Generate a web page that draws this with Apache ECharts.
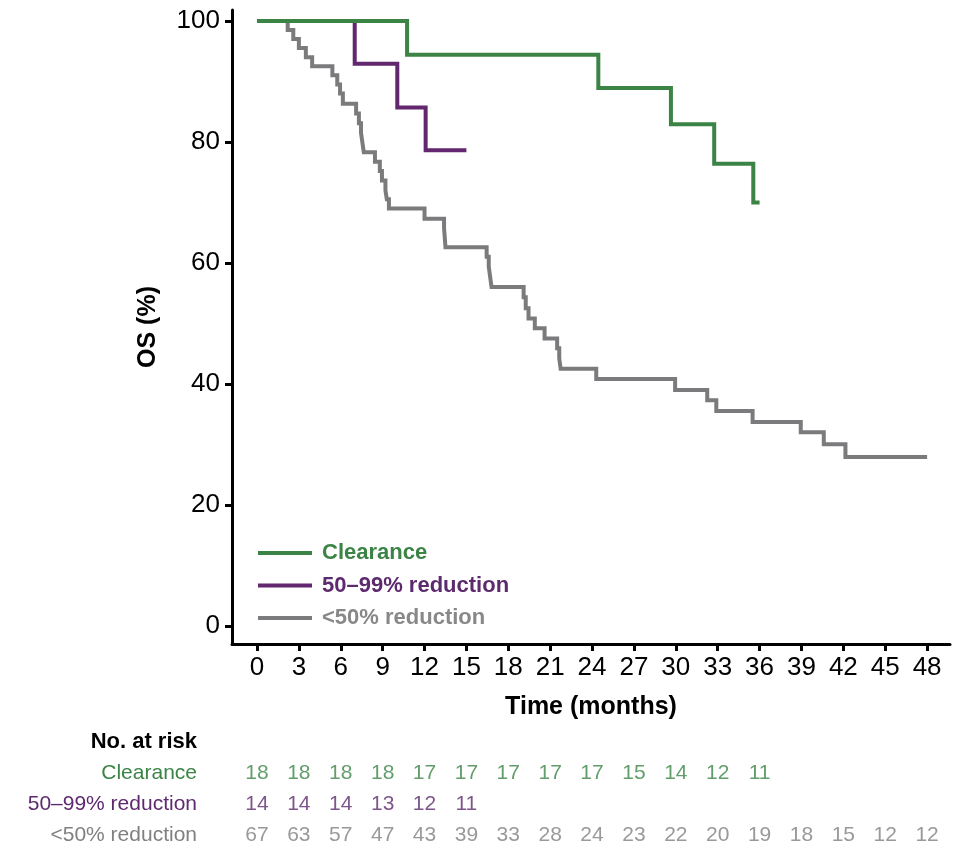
<!DOCTYPE html>
<html>
<head>
<meta charset="utf-8">
<script src="https://cdn.jsdelivr.net/npm/echarts@6/dist/echarts.min.js"></script>
<style>
  html, body { margin: 0; padding: 0; background: #fff; }
  #chart { width: 966px; height: 860px; }
</style>
</head>
<body>
<div id="chart"></div>
<script>
// survival curves (months, OS %)
const clearanceTimes = [0, 10.75, 24.45, 29.65, 32.75, 35.55, 36.0]
const clearanceSurv = [100, 94.4, 88.9, 82.9, 76.4, 70.0, 70.0]

const partialTimes = [0, 7.0, 10.05, 12.08, 15.0]
const partialSurv = [100, 92.9, 85.7, 78.6, 78.6]

const lowTimes = [0, 2.2, 2.6, 3.0, 3.5, 3.95, 5.4, 5.75, 5.95, 6.15, 7.1, 7.3, 7.45, 7.55, 7.65,
  8.45, 8.8, 8.95, 9.2, 9.3, 9.45, 12.0, 13.4, 13.45, 13.5, 16.45, 16.6, 16.7, 16.8,
  19.1, 19.25, 19.45, 19.9, 20.6, 21.5, 21.65, 21.75, 24.3, 29.95, 32.25, 32.9, 35.5,
  38.95, 40.6, 42.15, 48.0]
const lowSurv = [100, 98.5, 97.0, 95.5, 94.0, 92.5, 91.0, 89.5, 88.0, 86.3, 84.7, 83.1, 81.5, 79.9, 78.3,
  76.7, 75.2, 73.6, 72.0, 70.5, 69.0, 67.3, 65.7, 64.2, 62.6, 61.0, 59.4, 57.7, 56.0,
  54.3, 52.5, 50.8, 49.2, 47.5, 45.9, 44.2, 42.5, 40.8, 39.0, 37.3, 35.5, 33.7,
  32.0, 30.0, 27.9, 27.9]

// axis ticks
const xTicks = [0, 3, 6, 9, 12, 15, 18, 21, 24, 27, 30, 33, 36, 39, 42, 45, 48]
const yTicks = [0, 20, 40, 60, 80, 100]

// number at risk table
const groupNames = ['Clearance', '50–99% reduction', '<50% reduction']
const riskClearance = [18, 18, 18, 18, 17, 17, 17, 17, 17, 15, 14, 12, 11]
const riskPartial = [14, 14, 14, 13, 12, 11]
const riskLow = [67, 63, 57, 47, 43, 39, 33, 28, 24, 23, 22, 20, 19, 18, 15, 12, 12]

const colors = ['#3b8446', '#62276f', '#7b7b7d']
const textColors = ['#3b8446', '#5e2a6e', '#808080']
const FONT = '"Liberation Sans", Arial, Helvetica, sans-serif'

const pairs = (xs, ys) => xs.map((x, i) => [x, ys[i]])
const riskRow = (counts, row) => counts.map((n, i) => [xTicks[i], row, n])

const chart = echarts.init(document.getElementById('chart'))

const xRange = { min: -1.79, max: 49.64 }

const lineSeries = (name, data, color) => ({
  name,
  type: 'line',
  step: 'end',
  data,
  symbol: 'none',
  xAxisIndex: 0,
  yAxisIndex: 0,
  lineStyle: { color, width: 4, join: 'miter', cap: 'butt' },
  itemStyle: { color },
  animation: false,
})

const riskSeries = (counts, row) => ({
  type: 'scatter',
  xAxisIndex: 1,
  yAxisIndex: 1,
  data: riskRow(counts, row),
  symbolSize: 1,
  itemStyle: { color: 'transparent' },
  label: {
    show: true,
    position: 'inside',
    formatter: (p) => String(p.value[2]),
    color: textColors[row],
    fontSize: 21,
    fontFamily: FONT,
  },
  labelLayout: { hideOverlap: false },
  silent: true,
  animation: false,
})

const option = {
  backgroundColor: '#fff',
  textStyle: { fontFamily: FONT },
  grid: [
    { left: 232, right: 16, top: 10, height: 634 },
    { left: 232, right: 16, top: 757.5, height: 93 },
  ],
  legend: {
    orient: 'vertical',
    left: 258,
    top: 542,
    padding: 0,
    itemWidth: 54,
    itemHeight: 4,
    itemGap: 10.5,
    icon: 'rect',
    data: [
      { name: groupNames[0], textStyle: { color: textColors[0] } },
      { name: groupNames[1], textStyle: { color: textColors[1] } },
      { name: groupNames[2], textStyle: { color: '#888888' } },
    ],
    textStyle: { fontSize: 22, fontWeight: 'bold', fontFamily: FONT, padding: [0, 0, 0, 5] },
  },
  xAxis: [
    {
      type: 'value',
      gridIndex: 0,
      ...xRange,
      name: 'Time (months)',
      nameLocation: 'middle',
      nameGap: 51,
      nameTextStyle: { fontSize: 25, fontWeight: 'bold', color: '#000', fontFamily: FONT },
      axisLine: { show: true, onZero: false, lineStyle: { color: '#000', width: 3 } },
      axisTick: { show: true, length: 7, lineStyle: { color: '#000', width: 3 }, customValues: xTicks },
      axisLabel: { color: '#000', fontSize: 26, margin: 11, customValues: xTicks },
      splitLine: { show: false },
    },
    {
      type: 'value',
      gridIndex: 1,
      ...xRange,
      show: false,
    },
  ],
  yAxis: [
    {
      type: 'value',
      gridIndex: 0,
      min: -3.0,
      max: 101.8,
      name: 'OS (%)',
      nameLocation: 'middle',
      nameGap: 71,
      nameTextStyle: { fontSize: 25, fontWeight: 'bold', color: '#000', fontFamily: FONT },
      axisLine: { show: true, onZero: false, lineStyle: { color: '#000', width: 3 } },
      axisTick: { show: true, length: 7, lineStyle: { color: '#000', width: 3 }, customValues: yTicks },
      axisLabel: { color: '#000', fontSize: 26, margin: 12, customValues: yTicks },
      splitLine: { show: false },
    },
    {
      type: 'category',
      gridIndex: 1,
      inverse: true,
      data: groupNames,
      axisLine: { show: false },
      axisTick: { show: false },
      axisLabel: {
        fontSize: 21,
        margin: 35,
        color: (value, index) => textColors[index],
      },
    },
  ],
  graphic: [
    {
      type: 'text',
      right: 966 - 197,
      top: 731,
      style: { text: 'No. at risk', font: 'bold 22px ' + FONT, fill: '#000' },
    },
  ],
  series: [
    lineSeries(groupNames[2], pairs(lowTimes, lowSurv), colors[2]),
    lineSeries(groupNames[1], pairs(partialTimes, partialSurv), colors[1]),
    lineSeries(groupNames[0], pairs(clearanceTimes, clearanceSurv), colors[0]),
    riskSeries(riskClearance, 0),
    riskSeries(riskPartial, 1),
    riskSeries(riskLow, 2),
  ],
}

chart.setOption(option)
</script>
</body>
</html>
